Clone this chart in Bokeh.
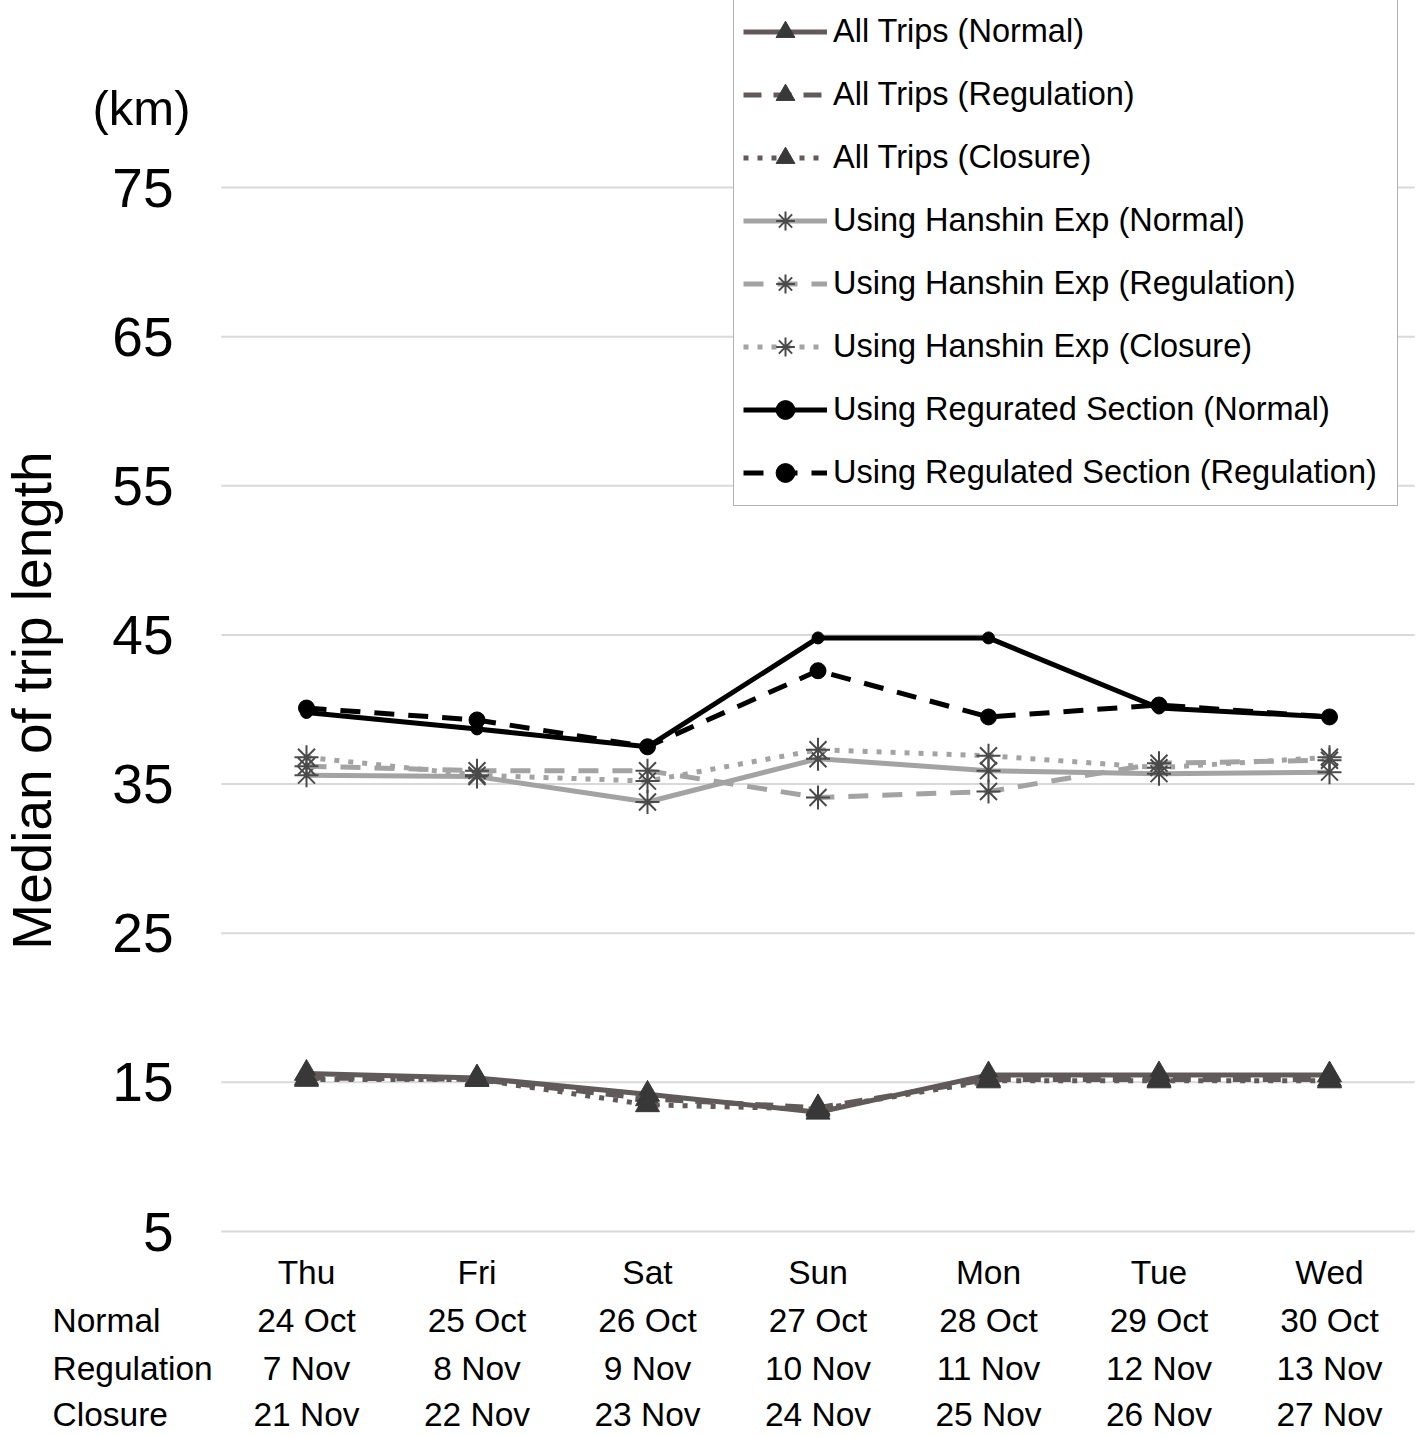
import math
from bokeh.plotting import figure
from bokeh.models import Range1d, Legend, LegendItem
from bokeh.core.properties import value
from bokeh.embed import file_html
from bokeh.resources import INLINE

# ---------------- data ----------------
days = ["Thu", "Fri", "Sat", "Sun", "Mon", "Tue", "Wed"]
normal_dates = ["24 Oct", "25 Oct", "26 Oct", "27 Oct", "28 Oct", "29 Oct", "30 Oct"]
regulation_dates = ["7 Nov", "8 Nov", "9 Nov", "10 Nov", "11 Nov", "12 Nov", "13 Nov"]
closure_dates = ["21 Nov", "22 Nov", "23 Nov", "24 Nov", "25 Nov", "26 Nov", "27 Nov"]
row_names = ["Normal", "Regulation", "Closure"]
y_ticks = [5, 15, 25, 35, 45, 55, 65, 75]

all_normal = [15.6, 15.3, 14.2, 13.0, 15.5, 15.5, 15.5]
all_regulation = [15.3, 15.2, 13.9, 13.3, 15.2, 15.2, 15.2]
all_closure = [15.2, 15.2, 13.5, 13.2, 15.1, 15.1, 15.1]
hanshin_normal = [35.6, 35.5, 33.8, 36.7, 35.9, 35.7, 35.8]
hanshin_regulation = [36.2, 35.9, 35.9, 34.1, 34.5, 36.4, 36.6]
hanshin_closure = [36.8, 35.6, 35.2, 37.3, 36.9, 36.1, 36.8]
section_normal = [39.8, 38.7, 37.5, 44.8, 44.8, 40.1, 39.5]
section_regulation = [40.1, 39.3, 37.5, 42.6, 39.5, 40.3, 39.5]

# ---------------- layout constants ----------------
FONT = "Liberation Sans"
W, H = 1416, 1435
CAT = 170.5          # px per day
X_THU = 306          # px of first day
PX_PER_UNIT = 14.914  # px per km
Y5 = 1231            # px of the 5 km gridline


def dx(px):
    return (px - X_THU) / CAT


def dy(py):
    return 5 + (Y5 - py) / PX_PER_UNIT


xpos = list(range(len(days)))

p = figure(width=W, height=H,
           x_range=Range1d(dx(0), dx(W)), y_range=Range1d(dy(H), dy(0)),
           x_axis_type=None, y_axis_type=None,
           output_backend="svg", toolbar_location=None,
           min_border=0, min_border_left=0, min_border_right=0,
           min_border_top=0, min_border_bottom=0)
p.outline_line_color = None
p.background_fill_color = "white"
p.border_fill_color = "white"
p.xgrid.visible = False
p.ygrid.visible = False

# horizontal gridlines across the category area only
p.segment(x0=[-0.5] * len(y_ticks), x1=[len(days) - 0.5] * len(y_ticks),
          y0=y_ticks, y1=y_ticks, line_color="#d9d9d9", line_width=2)

# y tick labels, unit and title
p.text(x=[dx(173)] * len(y_ticks), y=y_ticks, text=[str(t) for t in y_ticks],
       text_font=value(FONT), text_font_size="55px", text_align="right",
       text_baseline="middle", text_color="black")
p.text(x=[dx(141)], y=[dy(107)], text=["(km)"], text_font=value(FONT),
       text_font_size="49px", text_align="center", text_baseline="middle",
       text_color="black")
p.text(x=[dx(31)], y=[dy(700)], text=["Median of trip length"],
       text_font=value(FONT), text_font_size="55px", angle=math.pi / 2,
       text_align="center", text_baseline="middle", text_color="black")

# date table under the chart
row_py = [1272, 1320, 1368, 1414]
for texts, py in zip([days, normal_dates, regulation_dates, closure_dates], row_py):
    p.text(x=xpos, y=[dy(py)] * len(days), text=texts, text_font=value(FONT),
           text_font_size="33.5px", text_align="center", text_baseline="middle",
           text_color="black")
p.text(x=[dx(52)] * 3, y=[dy(py) for py in row_py[1:]], text=row_names,
       text_font=value(FONT), text_font_size="33.5px", text_align="left",
       text_baseline="middle", text_color="black")

ALL_C = "#605a5a"
ALL_M = "#383838"
HAN_C = "#a3a3a3"
HAN_M = "#4a4a4a"

series = [
    ("All Trips (Normal)", all_normal, ALL_C, "solid", 5, "triangle", 24, ALL_M),
    ("All Trips (Regulation)", all_regulation, ALL_C, "18 12", 5, "triangle", 24, ALL_M),
    ("All Trips (Closure)", all_closure, ALL_C, "5 9", 5, "triangle", 24, ALL_M),
    ("Using Hanshin Exp (Normal)", hanshin_normal, HAN_C, "solid", 5, "asterisk", 24, HAN_M),
    ("Using Hanshin Exp (Regulation)", hanshin_regulation, HAN_C, "20 14", 5, "asterisk", 24, HAN_M),
    ("Using Hanshin Exp (Closure)", hanshin_closure, HAN_C, "5 9", 5, "asterisk", 24, HAN_M),
    ("Using Regurated Section (Normal)", section_normal, "black", "solid", 5, "circle", 12, "black"),
    ("Using Regulated Section (Regulation)", section_regulation, "black", "20 14", 5, "circle", 16, "black"),
]

items = []
for label, vals, col, dash, lw, marker, size, mcol in series:
    lr = p.line(xpos, vals, line_color=col, line_width=lw, line_dash=dash)
    if marker == "asterisk":
        sr = p.scatter(xpos, vals, marker=marker, size=size, line_color=mcol,
                       line_width=2)
    else:
        sr = p.scatter(xpos, vals, marker=marker, size=size, fill_color=mcol,
                       line_color=mcol)
    items.append(LegendItem(label=label, renderers=[lr, sr]))

legend = Legend(items=items, location=(733, H - 506),
                label_text_font=FONT, label_text_font_size="32.5px",
                label_text_color="black",
                glyph_width=84, glyph_height=47, label_height=47,
                label_width=555, label_standoff=6, spacing=16, padding=9,
                margin=0, border_line_color="#666666", border_line_width=1.5,
                background_fill_alpha=1.0)
p.add_layout(legend)

open("out.html", "w").write(file_html(p, INLINE))
